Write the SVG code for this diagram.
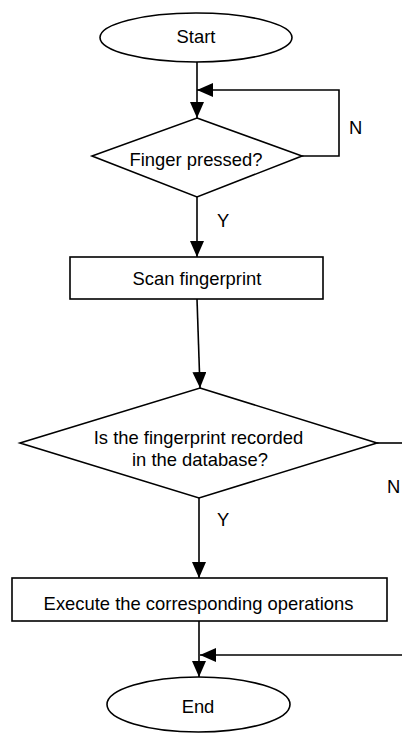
<svg xmlns="http://www.w3.org/2000/svg" width="402" height="733" viewBox="0 0 402 733">
<style>
.shape{fill:#fff;stroke:#000;stroke-width:1.6}
.edge{fill:none;stroke:#000;stroke-width:1.6}
text{font-family:"Liberation Sans",Arial,sans-serif;font-size:18.4px;fill:#000}
.c{text-anchor:middle}
</style>
<defs>
<marker id="arr" markerUnits="userSpaceOnUse" markerWidth="16" markerHeight="14" refX="16" refY="7" orient="auto">
<path d="M0,0 L16,7 L0,14 Z" fill="#000"/>
</marker>
</defs>
<rect width="402" height="733" fill="#fff"/>
<g id="connectors">
<path class="edge" d="M197,62 L197,118" marker-end="url(#arr)"/>
<path class="edge" d="M302,156 L339,156 L339,90 L197,90" marker-end="url(#arr)"/>
<path class="edge" d="M197,197 L197,257" marker-end="url(#arr)"/>
<path class="edge" d="M197,299 L200,388" marker-end="url(#arr)"/>
<path class="edge" d="M199,498 L199,578" marker-end="url(#arr)"/>
<path class="edge" d="M377,443 L402,443"/>
<path class="edge" d="M199,621 L199,677" marker-end="url(#arr)"/>
<path class="edge" d="M402,655 L200,655" marker-end="url(#arr)"/>
<text x="349" y="134">N</text>
<text x="217" y="227">Y</text>
<text x="387" y="493">N</text>
<text x="217" y="526">Y</text>
</g>
<g id="start">
<ellipse class="shape" cx="196" cy="37.5" rx="96" ry="24.5"/>
<text class="c" x="196" y="43">Start</text>
</g>
<g id="finger-pressed">
<polygon class="shape" points="197,118 302,156 197,197 92,156"/>
<text class="c" x="196" y="166">Finger pressed?</text>
</g>
<g id="scan">
<rect class="shape" x="70" y="257" width="253" height="42"/>
<text class="c" x="197" y="285">Scan fingerprint</text>
</g>
<g id="recorded">
<polygon class="shape" points="200,388 377,443 199,498 20,443"/>
<text class="c" x="198.5" y="444">Is the fingerprint recorded</text>
<text class="c" x="200" y="466">in the database?</text>
</g>
<g id="execute">
<rect class="shape" x="12" y="578" width="375" height="43"/>
<text class="c" x="198.5" y="610">Execute the corresponding operations</text>
</g>
<g id="end">
<ellipse class="shape" cx="198.5" cy="704.5" rx="91.5" ry="27.5"/>
<text class="c" x="198" y="713">End</text>
</g>
</svg>
